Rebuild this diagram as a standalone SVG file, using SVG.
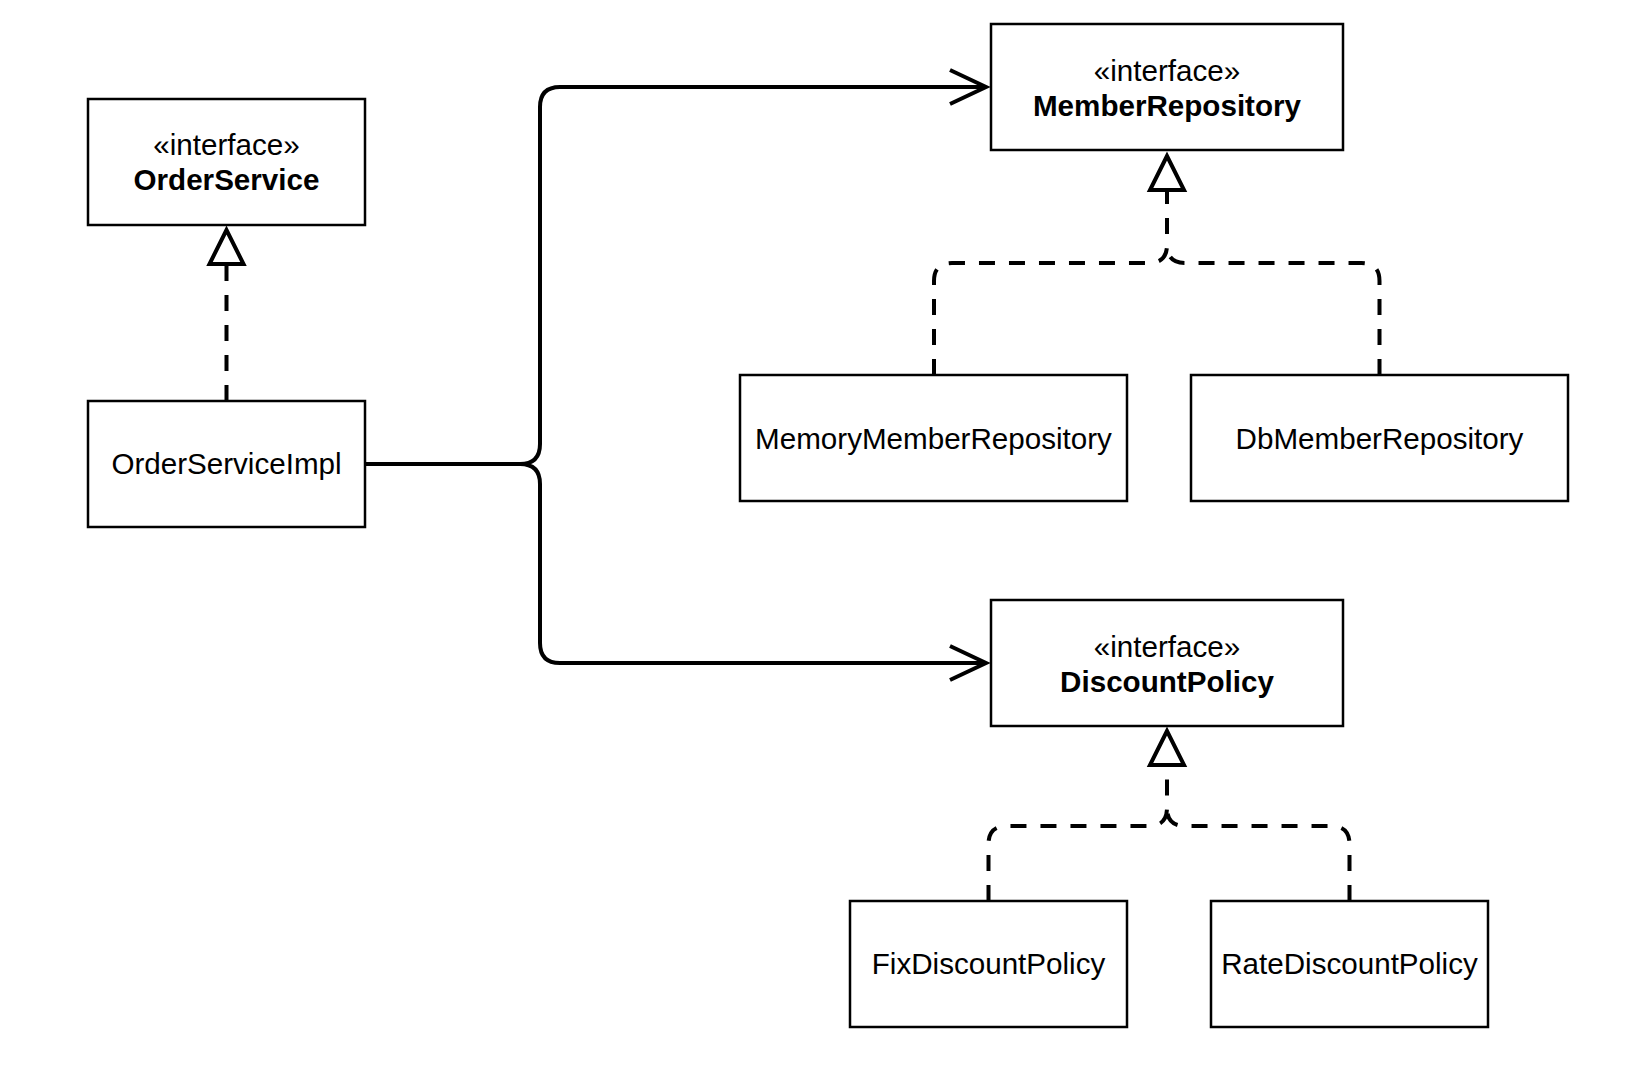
<svg xmlns="http://www.w3.org/2000/svg" width="1648" height="1088" viewBox="0 0 1648 1088">
  <style>
    .box { fill: #ffffff; stroke: #000000; stroke-width: 2.5; }
    .t { font-family: "Liberation Sans", Arial, Helvetica, sans-serif; font-size: 29.6px; fill: #000000; text-anchor: middle; }
    .b { font-weight: bold; }
    .solid { fill: none; stroke: #000000; stroke-width: 4; }
    .dash { fill: none; stroke: #000000; stroke-width: 4; stroke-dasharray: 16 14; }
  </style>
  <defs>
    <marker id="open" markerUnits="userSpaceOnUse" viewBox="-42 -22 48 44" markerWidth="48" markerHeight="44" refX="0" refY="0" orient="auto" overflow="visible">
      <path d="M -36 -17 L 0 0 L -36 17" fill="none" stroke="#000000" stroke-width="4" stroke-linejoin="miter"/>
    </marker>
    <marker id="tri" markerUnits="userSpaceOnUse" viewBox="-42 -24 50 48" markerWidth="50" markerHeight="48" refX="0" refY="0" orient="auto" overflow="visible">
      <path d="M 0 0 L -34 -17 L -34 17 Z" fill="#ffffff" stroke="#000000" stroke-width="4" stroke-dasharray="none" stroke-linejoin="miter"/>
    </marker>
  </defs>
  <rect x="0" y="0" width="1648" height="1088" fill="#ffffff"/>

  <g id="connectors">
    <path class="solid" d="M 365 464 H 520 Q 540 464 540 444 V 107 Q 540 87 560 87 H 986" marker-end="url(#open)"/>
    <path class="solid" d="M 365 464 H 520 Q 540 464 540 484 V 643 Q 540 663 560 663 H 986" marker-end="url(#open)"/>
    <path class="dash" d="M 226.5 401 V 230" marker-end="url(#tri)"/>
    <path class="dash" d="M 934 375 V 281 Q 934 263 952 263 H 1149 Q 1167 263 1167 245 V 156" marker-end="url(#tri)"/>
    <path class="dash" d="M 1379.5 375 V 281 Q 1379.5 263 1361.5 263 H 1185 Q 1167 263 1167 245"/>
    <path class="dash" d="M 988.5 901 V 844 Q 988.5 826 1006.5 826 H 1149 Q 1167 826 1167 808 V 731" marker-end="url(#tri)"/>
    <path class="dash" d="M 1349.5 901 V 844 Q 1349.5 826 1331.5 826 H 1185 Q 1167 826 1167 808"/>
  </g>

  <g id="OrderService">
    <rect class="box" x="88" y="99" width="277" height="126"/>
    <text class="t" x="226.5" y="155">«interface»</text>
    <text class="t b" x="226.5" y="190">OrderService</text>
  </g>
  <g id="OrderServiceImpl">
    <rect class="box" x="88" y="401" width="277" height="126"/>
    <text class="t" x="226.5" y="474">OrderServiceImpl</text>
  </g>
  <g id="MemberRepository">
    <rect class="box" x="991" y="24" width="352" height="126"/>
    <text class="t" x="1167" y="80.5">«interface»</text>
    <text class="t b" x="1167" y="116">MemberRepository</text>
  </g>
  <g id="MemoryMemberRepository">
    <rect class="box" x="740" y="375" width="387" height="126"/>
    <text class="t" x="933.5" y="449">MemoryMemberRepository</text>
  </g>
  <g id="DbMemberRepository">
    <rect class="box" x="1191" y="375" width="377" height="126"/>
    <text class="t" x="1379.5" y="449">DbMemberRepository</text>
  </g>
  <g id="DiscountPolicy">
    <rect class="box" x="991" y="600" width="352" height="126"/>
    <text class="t" x="1167" y="656.5">«interface»</text>
    <text class="t b" x="1167" y="692">DiscountPolicy</text>
  </g>
  <g id="FixDiscountPolicy">
    <rect class="box" x="850" y="901" width="277" height="126"/>
    <text class="t" x="988.5" y="974">FixDiscountPolicy</text>
  </g>
  <g id="RateDiscountPolicy">
    <rect class="box" x="1211" y="901" width="277" height="126"/>
    <text class="t" x="1349.5" y="974">RateDiscountPolicy</text>
  </g>
</svg>
